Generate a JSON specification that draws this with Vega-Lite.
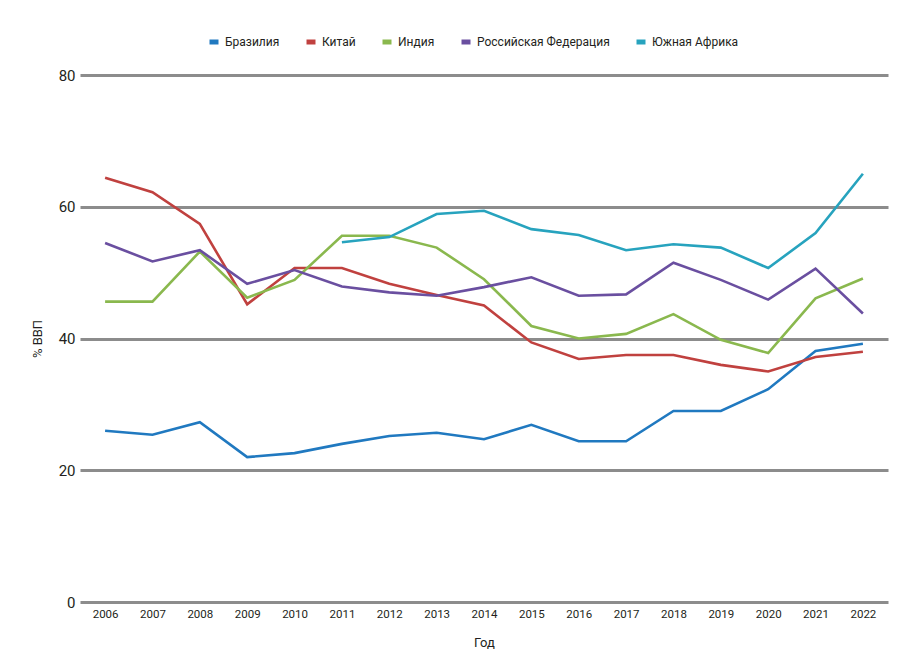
{
  "$schema": "https://vega.github.io/schema/vega-lite/v6.json",
  "width": 808,
  "height": 527,
  "autosize": "none",
  "padding": {"left": 80, "top": 75, "right": 17, "bottom": 62},
  "background": "white",
  "config": {
    "font": "Roboto",
    "view": {"stroke": null},
    "axis": {
      "labelFont": "Roboto",
      "titleFont": "Roboto",
      "labelFontSize": 11.5,
      "titleFontSize": 13,
      "labelColor": "#231f20",
      "titleColor": "#231f20",
      "titleFontWeight": "normal"
    },
    "legend": {
      "labelFont": "Roboto",
      "labelFontSize": 12,
      "labelColor": "#231f20"
    }
  },
  "data": {
    "values": [
      {"year": 2006, "country": "Бразилия", "value": 26.0},
      {"year": 2007, "country": "Бразилия", "value": 25.4},
      {"year": 2008, "country": "Бразилия", "value": 27.3},
      {"year": 2009, "country": "Бразилия", "value": 22.0},
      {"year": 2010, "country": "Бразилия", "value": 22.6},
      {"year": 2011, "country": "Бразилия", "value": 24.0},
      {"year": 2012, "country": "Бразилия", "value": 25.2},
      {"year": 2013, "country": "Бразилия", "value": 25.7},
      {"year": 2014, "country": "Бразилия", "value": 24.7},
      {"year": 2015, "country": "Бразилия", "value": 26.9},
      {"year": 2016, "country": "Бразилия", "value": 24.4},
      {"year": 2017, "country": "Бразилия", "value": 24.4},
      {"year": 2018, "country": "Бразилия", "value": 29.0},
      {"year": 2019, "country": "Бразилия", "value": 29.0},
      {"year": 2020, "country": "Бразилия", "value": 32.3},
      {"year": 2021, "country": "Бразилия", "value": 38.1},
      {"year": 2022, "country": "Бразилия", "value": 39.2},

      {"year": 2006, "country": "Китай", "value": 64.4},
      {"year": 2007, "country": "Китай", "value": 62.2},
      {"year": 2008, "country": "Китай", "value": 57.4},
      {"year": 2009, "country": "Китай", "value": 45.2},
      {"year": 2010, "country": "Китай", "value": 50.7},
      {"year": 2011, "country": "Китай", "value": 50.7},
      {"year": 2012, "country": "Китай", "value": 48.3},
      {"year": 2013, "country": "Китай", "value": 46.6},
      {"year": 2014, "country": "Китай", "value": 45.0},
      {"year": 2015, "country": "Китай", "value": 39.4},
      {"year": 2016, "country": "Китай", "value": 36.9},
      {"year": 2017, "country": "Китай", "value": 37.5},
      {"year": 2018, "country": "Китай", "value": 37.5},
      {"year": 2019, "country": "Китай", "value": 36.0},
      {"year": 2020, "country": "Китай", "value": 35.0},
      {"year": 2021, "country": "Китай", "value": 37.2},
      {"year": 2022, "country": "Китай", "value": 38.0},

      {"year": 2006, "country": "Индия", "value": 45.6},
      {"year": 2007, "country": "Индия", "value": 45.6},
      {"year": 2008, "country": "Индия", "value": 53.2},
      {"year": 2009, "country": "Индия", "value": 46.2},
      {"year": 2010, "country": "Индия", "value": 48.9},
      {"year": 2011, "country": "Индия", "value": 55.6},
      {"year": 2012, "country": "Индия", "value": 55.6},
      {"year": 2013, "country": "Индия", "value": 53.8},
      {"year": 2014, "country": "Индия", "value": 49.0},
      {"year": 2015, "country": "Индия", "value": 41.9},
      {"year": 2016, "country": "Индия", "value": 40.0},
      {"year": 2017, "country": "Индия", "value": 40.7},
      {"year": 2018, "country": "Индия", "value": 43.7},
      {"year": 2019, "country": "Индия", "value": 39.8},
      {"year": 2020, "country": "Индия", "value": 37.8},
      {"year": 2021, "country": "Индия", "value": 46.1},
      {"year": 2022, "country": "Индия", "value": 49.1},

      {"year": 2006, "country": "Российская Федерация", "value": 54.5},
      {"year": 2007, "country": "Российская Федерация", "value": 51.7},
      {"year": 2008, "country": "Российская Федерация", "value": 53.4},
      {"year": 2009, "country": "Российская Федерация", "value": 48.3},
      {"year": 2010, "country": "Российская Федерация", "value": 50.4},
      {"year": 2011, "country": "Российская Федерация", "value": 47.9},
      {"year": 2012, "country": "Российская Федерация", "value": 47.0},
      {"year": 2013, "country": "Российская Федерация", "value": 46.5},
      {"year": 2014, "country": "Российская Федерация", "value": 47.8},
      {"year": 2015, "country": "Российская Федерация", "value": 49.3},
      {"year": 2016, "country": "Российская Федерация", "value": 46.5},
      {"year": 2017, "country": "Российская Федерация", "value": 46.7},
      {"year": 2018, "country": "Российская Федерация", "value": 51.5},
      {"year": 2019, "country": "Российская Федерация", "value": 48.9},
      {"year": 2020, "country": "Российская Федерация", "value": 45.9},
      {"year": 2021, "country": "Российская Федерация", "value": 50.6},
      {"year": 2022, "country": "Российская Федерация", "value": 43.8},

      {"year": 2011, "country": "Южная Африка", "value": 54.6},
      {"year": 2012, "country": "Южная Африка", "value": 55.4},
      {"year": 2013, "country": "Южная Африка", "value": 58.9},
      {"year": 2014, "country": "Южная Африка", "value": 59.4},
      {"year": 2015, "country": "Южная Африка", "value": 56.6},
      {"year": 2016, "country": "Южная Африка", "value": 55.7},
      {"year": 2017, "country": "Южная Африка", "value": 53.4},
      {"year": 2018, "country": "Южная Африка", "value": 54.3},
      {"year": 2019, "country": "Южная Африка", "value": 53.8},
      {"year": 2020, "country": "Южная Африка", "value": 50.7},
      {"year": 2021, "country": "Южная Африка", "value": 56.0},
      {"year": 2022, "country": "Южная Африка", "value": 65.0}
    ]
  },
  "mark": {"type": "line", "strokeWidth": 2.6},
  "encoding": {
    "x": {
      "field": "year",
      "type": "ordinal",
      "scale": {"type": "point", "padding": 0.53},
      "axis": {
        "title": "Год",
        "labelAngle": 0,
        "grid": false,
        "ticks": false,
        "domain": false,
        "labelPadding": 6,
        "titlePadding": 17
      }
    },
    "y": {
      "field": "value",
      "type": "quantitative",
      "scale": {"domain": [0, 80], "nice": false},
      "axis": {
        "title": "% ВВП",
        "values": [0, 20, 40, 60, 80],
        "grid": true,
        "gridColor": "#8c8c8c",
        "gridWidth": 3,
        "domain": false,
        "ticks": false,
        "labelFontSize": 15,
        "labelPadding": 5,
        "titlePadding": 14
      }
    },
    "color": {
      "field": "country",
      "type": "nominal",
      "scale": {
        "domain": ["Бразилия", "Китай", "Индия", "Российская Федерация", "Южная Африка"],
        "range": ["#2079c0", "#c0413f", "#8ab84e", "#6a4fa0", "#27a3be"]
      },
      "legend": {
        "title": null,
        "orient": "none",
        "legendX": 127,
        "legendY": -40,
        "direction": "horizontal",
        "symbolType": "M-1,0H1",
        "symbolSize": 81,
        "symbolStrokeWidth": 5,
        "labelOffset": 4,
        "columnPadding": 16
      }
    }
  }
}
